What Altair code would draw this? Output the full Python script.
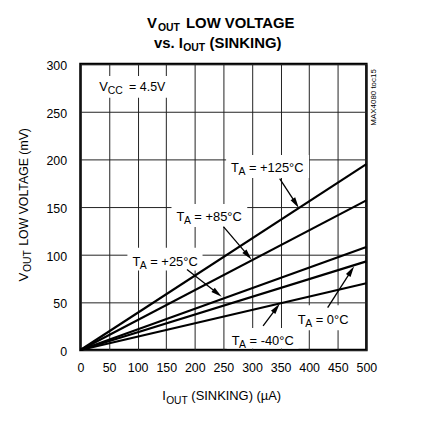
import math
import altair as alt
import pandas as pd

FONT = "Liberation Sans, Arial, Helvetica, sans-serif"

# ---- data ----
current_ua = [0, 500]
temps = ["+125°C", "+85°C", "+25°C", "0°C", "-40°C"]
vout_at_0ua = [0, 0, 0, 0, 0]
vout_at_500ua = [195, 157, 108, 93, 70]

x_ticks = [0, 50, 100, 150, 200, 250, 300, 350, 400, 450, 500]
y_ticks = [0, 50, 100, 150, 200, 250, 300]

# annotation labels (data units)
ann_rest = ["= +125°C", "= +85°C", "= +25°C", "= -40°C", "= 0°C"]
ann_x = [263.4, 167.9, 90.8, 264.4, 380.2]
ann_y = [186.8, 135.4, 88.5, 5.5, 27.1]
box_x1 = [254.7, 159.2, 82.1, 255.7, 371.5]
box_x2 = [399.8, 291.7, 213.5, 381.4, 476.9]
box_y1 = [180.5, 129.2, 83.3, 1.5, 20.8]
box_y2 = [204.5, 153.1, 107.3, 23.2, 46.9]
arrow_x1 = [348.4, 250.0, 186.3, 319.4, 432.3]
arrow_y1 = [179.9, 129.5, 84.4, 25.3, 44.5]
arrow_x2 = [381.9, 299.1, 247.0, 348.4, 478.6]
arrow_y2 = [149.0, 95.0, 56.0, 48.6, 87.8]

vcc_x, vcc_y = 33.0, 271.6
vcc_box = (24.3, 156.3, 264.6, 287.5)

W, H = 288, 288
XD, YD = [0, 500], [0, 300]

# ---- tables ----
rows = []
for t, v0, v1 in zip(temps, vout_at_0ua, vout_at_500ua):
    rows.append({"temp": t, "i": current_ua[0], "v": v0})
    rows.append({"temp": t, "i": current_ua[1], "v": v1})
lines_df = pd.DataFrame(rows)

boxes_df = pd.DataFrame({
    "x1": box_x1 + [vcc_box[0]], "x2": box_x2 + [vcc_box[1]],
    "y1": box_y1 + [vcc_box[2]], "y2": box_y2 + [vcc_box[3]],
})
ann_df = pd.DataFrame({"x": ann_x, "y": ann_y, "rest": ann_rest})

arr_rows = []
HEAD = 11.0
for x1, y1, x2, y2 in zip(arrow_x1, arrow_y1, arrow_x2, arrow_y2):
    dxp = (x2 - x1) * W / (XD[1] - XD[0])
    dyp = -(y2 - y1) * H / (YD[1] - YD[0])
    L = math.hypot(dxp, dyp)
    ux, uy = dxp / L, dyp / L
    ang = math.degrees(math.atan2(ux, -uy)) % 360
    cx = x2 - (HEAD / 2) * ux * (XD[1] - XD[0]) / W
    cy = y2 + (HEAD / 2) * uy * (YD[1] - YD[0]) / H
    arr_rows.append({"x1": x1, "y1": y1, "cx": cx, "cy": cy, "ang": ang})
arr_df = pd.DataFrame(arr_rows)

xs = alt.Scale(domain=XD, nice=False, zero=False)
ys = alt.Scale(domain=YD, nice=False, zero=False)

x_axis = alt.Axis(values=x_ticks, title=None, domain=False, ticks=False,
                  labelPadding=12, labelFontSize=12.5, grid=True,
                  labelOverlap=False, labelFlush=False)
y_axis = alt.Axis(values=y_ticks, title=None, domain=False, ticks=False,
                  labelPadding=14, labelFontSize=12.5, grid=True, labelOffset=1.5,
                  labelOverlap=False, labelFlush=False)

def X(f):
    return alt.X(f, scale=xs, axis=x_axis)

def Y(f):
    return alt.Y(f, scale=ys, axis=y_axis)

lines = alt.Chart(lines_df).mark_line(color="black", strokeWidth=2.2).encode(
    x=X("i:Q"), y=Y("v:Q"), detail="temp:N",
)

boxes = alt.Chart(boxes_df).mark_rect(color="white").encode(
    x=X("x1:Q"), x2="x2:Q", y=Y("y1:Q"), y2="y2:Q",
)

shafts = alt.Chart(arr_df).mark_rule(color="black", strokeWidth=1.3).encode(
    x=X("x1:Q"), x2="cx:Q", y=Y("y1:Q"), y2="cy:Q",
)
heads = alt.Chart(arr_df).mark_point(
    shape="M0,-1L0.5,1L-0.5,1Z", filled=True, color="black", opacity=1,
    size=HEAD * HEAD, strokeWidth=0,
).encode(
    x=X("cx:Q"), y=Y("cy:Q"),
    angle=alt.Angle("ang:Q", scale=None),
)

def ann_layer(field_or_text, size, dx=0, dy=0):
    base = alt.Chart(ann_df).mark_text(
        align="left", baseline="alphabetic", font=FONT, fontSize=size,
        color="black", dx=dx, dy=dy,
    )
    enc = dict(x=X("x:Q"), y=Y("y:Q"))
    if field_or_text == "rest":
        enc["text"] = alt.Text("rest:N")
    else:
        enc["text"] = alt.value(field_or_text)
    return base.encode(**enc)

ann_T = ann_layer("T", 13)
ann_A = ann_layer("A", 10.5, dx=7.5, dy=3)
ann_R = ann_layer("rest", 13, dx=18)

vcc_df = pd.DataFrame({"x": [vcc_x], "y": [vcc_y]})
def vcc_layer(s, size, dx=0, dy=0):
    return alt.Chart(vcc_df).mark_text(
        align="left", baseline="alphabetic", font=FONT, fontSize=size,
        color="black", dx=dx, dy=dy,
    ).encode(x=X("x:Q"), y=Y("y:Q"), text=alt.value(s))

vcc = vcc_layer("V", 13) + vcc_layer("CC", 10.5, dx=8.5, dy=2.5) + vcc_layer("= 4.5V", 12.5, dx=30)

one = pd.DataFrame({"k": [0]})
def txt(s, px, py, size, bold=False, angle=0):
    return alt.Chart(one).mark_text(
        align="left", baseline="alphabetic", font=FONT, fontSize=size,
        fontWeight="bold" if bold else "normal", angle=angle, color="black",
    ).encode(x=alt.value(px), y=alt.value(py), text=alt.value(s))

title = (
    txt("V", 67, -36.3, 15, True)
    + txt("OUT", 78, -33.3, 10.5, True)
    + txt("LOW VOLTAGE", 106.3, -36.3, 15, True)
    + txt("vs. I", 74, -16.3, 15, True)
    + txt("OUT", 103.5, -13.3, 10.5, True)
    + txt("(SINKING)", 130, -16.3, 15, True)
)

x_title = (
    txt("I", 82.3, 338.7, 13)
    + txt("OUT", 86.3, 342, 10.3)
    + txt("(SINKING) (µA)", 111.7, 338.7, 13)
)

y_title = (
    txt("V", -52.7, 219, 13.5, angle=270)
    + txt("OUT", -50.3, 209.5, 10.5, angle=270)
    + txt("LOW VOLTAGE (mV)", -52.7, 183, 12.4, angle=270)
)

tag = txt("MAX4080 toc15", 297.3, 62, 8, angle=270)

chart = alt.layer(
    boxes, lines, shafts, heads, ann_T, ann_A, ann_R, vcc,
    title, x_title, y_title, tag,
).properties(
    width=W, height=H,
    autosize=alt.AutoSizeParams(type="none"),
    padding={"left": 73, "top": 55, "right": 50, "bottom": 70},
).configure_view(
    stroke="black", strokeWidth=2.5,
).configure_axis(
    labelFont=FONT, labelColor="black", gridColor="#222222", gridWidth=1,
    gridOpacity=1,
)

chart.save("out.html", embed_options={"renderer": "svg", "actions": False})
